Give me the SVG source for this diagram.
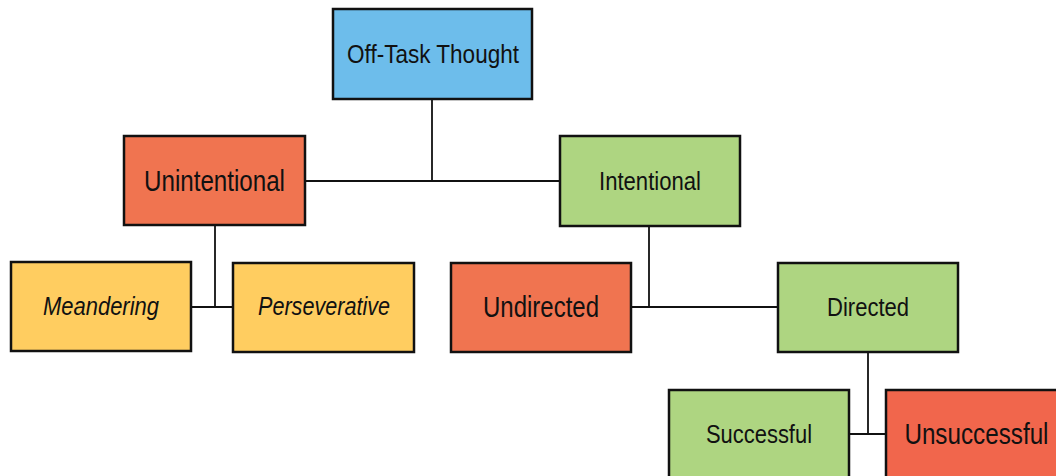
<svg xmlns="http://www.w3.org/2000/svg" width="1056" height="476" viewBox="0 0 1056 476">
<style>
.box{stroke:#111;stroke-width:2.5}
.blue{fill:#6DBDEB}
.red{fill:#F07450}
.red2{fill:#F1664C}
.green{fill:#AED581}
.yellow{fill:#FFCD60}
text{font-family:"Liberation Sans",Arial,sans-serif;fill:#111;text-anchor:middle}
.lg{font-size:29px}
.sm{font-size:25px}
.md{font-size:26px}
.it{font-size:26px;font-style:italic}
.conn line{stroke:#111;stroke-width:1.8}
</style>
<rect width="1056" height="476" fill="#fff"/>
<g class="conn" id="connectors">
<line x1="432" y1="99" x2="432" y2="181"/>
<line x1="305" y1="181" x2="560" y2="181"/>
<line x1="215" y1="225" x2="215" y2="307"/>
<line x1="191" y1="307" x2="233" y2="307"/>
<line x1="649" y1="226" x2="649" y2="307"/>
<line x1="631" y1="307" x2="778" y2="307"/>
<line x1="868" y1="352" x2="868" y2="434"/>
<line x1="849" y1="434" x2="886" y2="434"/>
</g>
<g id="offtask"><rect class="box blue" x="333" y="9" width="199" height="90"/><text class="md" x="433" y="63" textLength="172" lengthAdjust="spacingAndGlyphs">Off-Task Thought</text></g>
<g id="unintentional"><rect class="box red" x="124" y="136" width="181" height="89"/><text class="lg" x="214.5" y="191" textLength="141" lengthAdjust="spacingAndGlyphs">Unintentional</text></g>
<g id="intentional"><rect class="box green" x="560" y="136" width="180" height="90"/><text class="sm" x="650" y="190" textLength="102" lengthAdjust="spacingAndGlyphs">Intentional</text></g>
<g id="meandering"><rect class="box yellow" x="11" y="262" width="180" height="89"/><text class="it" x="101" y="315" textLength="116" lengthAdjust="spacingAndGlyphs">Meandering</text></g>
<g id="perseverative"><rect class="box yellow" x="233" y="263" width="181" height="89"/><text class="it" x="324" y="315" textLength="132" lengthAdjust="spacingAndGlyphs">Perseverative</text></g>
<g id="undirected"><rect class="box red" x="451" y="263" width="180" height="89"/><text class="lg" x="541" y="317" textLength="116" lengthAdjust="spacingAndGlyphs">Undirected</text></g>
<g id="directed"><rect class="box green" x="778" y="263" width="180" height="89"/><text class="sm" x="868" y="316" textLength="82" lengthAdjust="spacingAndGlyphs">Directed</text></g>
<g id="successful"><rect class="box green" x="669" y="390" width="180" height="89"/><text class="sm" x="759" y="443" textLength="106" lengthAdjust="spacingAndGlyphs">Successful</text></g>
<g id="unsuccessful"><rect class="box red2" x="886" y="390" width="181" height="89"/><text class="lg" transform="scale(0.836 1)" x="1168" y="444">Unsuccessful</text></g>
</svg>
